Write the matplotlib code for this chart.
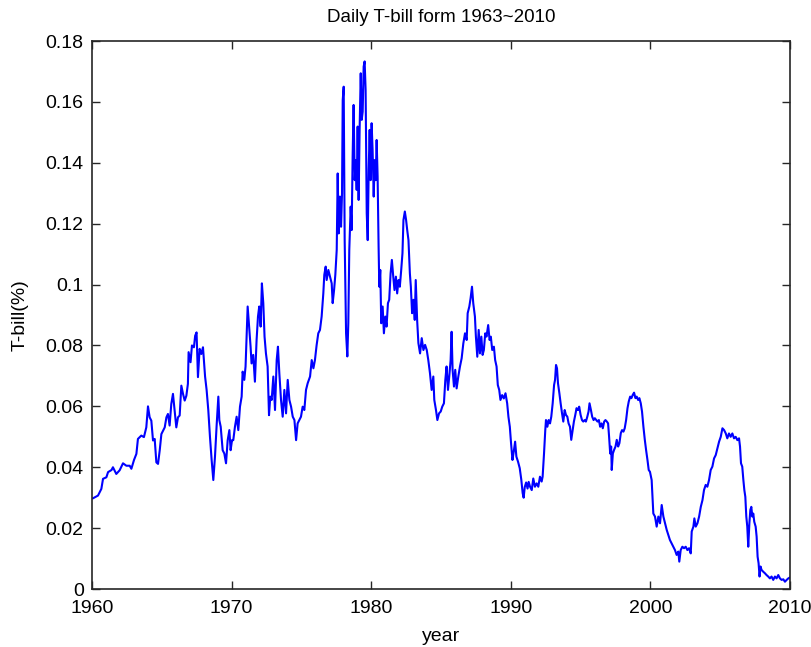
import numpy as np
import matplotlib
matplotlib.use('Agg')
import matplotlib.pyplot as plt
from matplotlib.ticker import FormatStrFormatter

#--- DATA ---------------------------------------------------------------------+

# 1960-1968
yr_60s = [1960.07, 1960.43, 1960.67, 1960.79, 1961.03, 1961.15, 1961.40, 1961.50,
          1961.74, 1961.98, 1962.22, 1962.46, 1962.70, 1962.82, 1963.01, 1963.18,
          1963.29, 1963.53, 1963.72, 1963.89, 1964.01, 1964.13, 1964.25, 1964.37,
          1964.49, 1964.61, 1964.73, 1964.85, 1964.97, 1965.21, 1965.33, 1965.44,
          1965.56, 1965.68, 1965.80, 1965.92, 1966.04, 1966.16, 1966.28, 1966.40,
          1966.52, 1966.64, 1966.76, 1966.87, 1966.92, 1967.06, 1967.16, 1967.30,
          1967.39, 1967.49, 1967.59, 1967.71, 1967.83, 1967.95]
tb_60s = [0.0298, 0.0307, 0.0329, 0.0362, 0.0367, 0.0384, 0.0391, 0.0400,
          0.0378, 0.0390, 0.0413, 0.0405, 0.0405, 0.0395, 0.0424, 0.0444,
          0.0493, 0.0504, 0.0499, 0.0531, 0.0600, 0.0564, 0.0553, 0.0488,
          0.0493, 0.0416, 0.0411, 0.0455, 0.0509, 0.0531, 0.0564, 0.0575,
          0.0537, 0.0608, 0.0641, 0.0586, 0.0531, 0.0564, 0.0570, 0.0668,
          0.0641, 0.0619, 0.0635, 0.0674, 0.0778, 0.0745, 0.0800, 0.0794,
          0.0832, 0.0843, 0.0696, 0.0789, 0.0772, 0.0794]

# 1968-1975
yr_70s = [1968.10, 1968.21, 1968.33, 1968.45, 1968.57, 1968.69, 1968.81, 1968.93,
          1969.05, 1969.12, 1969.22, 1969.36, 1969.48, 1969.60, 1969.72, 1969.84,
          1969.93, 1970.03, 1970.12, 1970.24, 1970.36, 1970.48, 1970.60, 1970.72,
          1970.79, 1970.91, 1971.00, 1971.08, 1971.15, 1971.24, 1971.36, 1971.43,
          1971.55, 1971.67, 1971.79, 1971.89, 1971.98, 1972.08, 1972.17, 1972.27,
          1972.36, 1972.46, 1972.58, 1972.68, 1972.77, 1972.87, 1972.99, 1973.11,
          1973.23, 1973.32, 1973.42, 1973.54, 1973.66, 1973.78, 1973.90, 1974.02,
          1974.14, 1974.26, 1974.38, 1974.50, 1974.62, 1974.73, 1974.85, 1974.97,
          1975.09, 1975.21, 1975.33, 1975.45]
tb_70s = [0.0698, 0.0654, 0.0588, 0.0500, 0.0424, 0.0358, 0.0435, 0.0539,
          0.0632, 0.0555, 0.0533, 0.0456, 0.0445, 0.0413, 0.0489, 0.0522,
          0.0456, 0.0489, 0.0489, 0.0533, 0.0566, 0.0522, 0.0599, 0.0632,
          0.0714, 0.0687, 0.0731, 0.0835, 0.0928, 0.0873, 0.0796, 0.0741,
          0.0769, 0.0681, 0.0818, 0.0895, 0.0928, 0.0862, 0.1004, 0.0939,
          0.0829, 0.0774, 0.0731, 0.0571, 0.0632, 0.0621, 0.0698, 0.0588,
          0.0752, 0.0796, 0.0708, 0.0621, 0.0566, 0.0654, 0.0577, 0.0687,
          0.0621, 0.0599, 0.0566, 0.0555, 0.0489, 0.0544, 0.0555, 0.0566,
          0.0599, 0.0588, 0.0654, 0.0676]

# 1975-1983
yr_80s = [1975.62, 1975.74, 1975.86, 1975.97, 1976.09, 1976.21, 1976.33, 1976.45,
          1976.57, 1976.64, 1976.74, 1976.81, 1976.93, 1977.05, 1977.17, 1977.24,
          1977.34, 1977.43, 1977.53, 1977.60, 1977.67, 1977.76, 1977.84, 1977.91,
          1977.96, 1978.03, 1978.10, 1978.20, 1978.29, 1978.36, 1978.43, 1978.53,
          1978.60, 1978.67, 1978.74, 1978.82, 1978.89, 1978.96, 1979.03, 1979.10,
          1979.17, 1979.25, 1979.32, 1979.39, 1979.46, 1979.53, 1979.60, 1979.68,
          1979.75, 1979.82, 1979.89, 1979.96, 1980.03, 1980.10, 1980.18, 1980.25,
          1980.32, 1980.39, 1980.46, 1980.53, 1980.58, 1980.65, 1980.72, 1980.82,
          1980.91, 1981.01, 1981.10, 1981.20, 1981.29, 1981.39, 1981.48, 1981.58,
          1981.67, 1981.77, 1981.86, 1981.96, 1982.05, 1982.15, 1982.24, 1982.31,
          1982.41, 1982.50, 1982.58, 1982.67, 1982.77, 1982.84, 1982.93, 1983.03,
          1983.12, 1983.19, 1983.29, 1983.38]
tb_80s = [0.0698, 0.0752, 0.0725, 0.0752, 0.0801, 0.0840, 0.0851, 0.0895,
          0.0971, 0.1032, 0.1059, 0.1015, 0.1048, 0.1026, 0.1004, 0.0939,
          0.0982, 0.1032, 0.1114, 0.1365, 0.1168, 0.1289, 0.1190, 0.1300,
          0.1606, 0.1650, 0.1146, 0.0840, 0.0764, 0.0873, 0.1114, 0.1256,
          0.1179, 0.1420, 0.1590, 0.1343, 0.1409, 0.1311, 0.1519, 0.1278,
          0.1508, 0.1694, 0.1541, 0.1568, 0.1716, 0.1733, 0.1639, 0.1234,
          0.1146, 0.1376, 0.1508, 0.1343, 0.1530, 0.1442, 0.1289, 0.1409,
          0.1343, 0.1475, 0.1354, 0.1125, 0.0993, 0.1048, 0.0873, 0.0928,
          0.0840, 0.0895, 0.0862, 0.0939, 0.0950, 0.1037, 0.1081, 0.1026,
          0.0982, 0.1026, 0.0971, 0.1015, 0.0993, 0.1048, 0.1103, 0.1212,
          0.1240, 0.1212, 0.1179, 0.1146, 0.1037, 0.0993, 0.0906, 0.0950,
          0.0884, 0.1015, 0.0884, 0.0808]

# 1983-1991
yr_90s = [1983.50, 1983.62, 1983.74, 1983.86, 1983.98, 1984.09, 1984.21, 1984.33,
          1984.45, 1984.52, 1984.64, 1984.74, 1984.86, 1984.98, 1985.09, 1985.21,
          1985.31, 1985.40, 1985.50, 1985.59, 1985.69, 1985.76, 1985.83, 1985.93,
          1986.02, 1986.12, 1986.24, 1986.36, 1986.48, 1986.60, 1986.72, 1986.84,
          1986.91, 1987.03, 1987.12, 1987.22, 1987.31, 1987.43, 1987.50, 1987.60,
          1987.70, 1987.79, 1987.89, 1987.98, 1988.07, 1988.17, 1988.26, 1988.38,
          1988.48, 1988.57, 1988.67, 1988.79, 1988.88, 1988.98, 1989.07, 1989.17,
          1989.26, 1989.38, 1989.50, 1989.62, 1989.74, 1989.83, 1989.93, 1990.02,
          1990.12, 1990.21, 1990.31, 1990.40, 1990.52, 1990.64, 1990.75, 1990.85,
          1990.92, 1991.00, 1991.10, 1991.20, 1991.28]
tb_90s = [0.0774, 0.0824, 0.0785, 0.0802, 0.0785, 0.0752, 0.0709, 0.0654,
          0.0698, 0.0621, 0.0588, 0.0555, 0.0577, 0.0583, 0.0599, 0.0610,
          0.0687, 0.0731, 0.0654, 0.0698, 0.0752, 0.0845, 0.0720, 0.0665,
          0.0720, 0.0659, 0.0698, 0.0731, 0.0758, 0.0807, 0.0840, 0.0818,
          0.0906, 0.0928, 0.0955, 0.0993, 0.0939, 0.0895, 0.0829, 0.0763,
          0.0851, 0.0774, 0.0829, 0.0769, 0.0785, 0.0840, 0.0829, 0.0867,
          0.0818, 0.0829, 0.0785, 0.0796, 0.0752, 0.0731, 0.0670, 0.0654,
          0.0621, 0.0637, 0.0626, 0.0643, 0.0610, 0.0566, 0.0533, 0.0478,
          0.0424, 0.0451, 0.0484, 0.0435, 0.0418, 0.0397, 0.0360, 0.0315,
          0.0300, 0.0335, 0.0350, 0.0330, 0.0352]

# 1991-2000
yr_00s = [1991.38, 1991.50, 1991.61, 1991.73, 1991.85, 1991.97, 1992.09, 1992.21,
          1992.28, 1992.38, 1992.47, 1992.52, 1992.62, 1992.71, 1992.81, 1992.90,
          1993.00, 1993.10, 1993.17, 1993.24, 1993.31, 1993.38, 1993.48, 1993.57,
          1993.67, 1993.76, 1993.86, 1993.95, 1994.05, 1994.14, 1994.24, 1994.33,
          1994.43, 1994.52, 1994.62, 1994.71, 1994.81, 1994.90, 1995.00, 1995.10,
          1995.19, 1995.29, 1995.38, 1995.48, 1995.57, 1995.64, 1995.74, 1995.83,
          1995.93, 1996.02, 1996.12, 1996.21, 1996.31, 1996.40, 1996.50, 1996.59,
          1996.69, 1996.78, 1996.88, 1996.97, 1997.04, 1997.12, 1997.19, 1997.23,
          1997.31, 1997.40, 1997.50, 1997.59, 1997.69, 1997.78, 1997.88, 1997.97,
          1998.07, 1998.16, 1998.26, 1998.36, 1998.45, 1998.55, 1998.64, 1998.74,
          1998.83, 1998.93, 1999.02, 1999.12, 1999.21, 1999.31, 1999.40, 1999.50,
          1999.60, 1999.69, 1999.79, 1999.88]
tb_00s = [0.0336, 0.0325, 0.0363, 0.0336, 0.0347, 0.0336, 0.0369, 0.0353,
          0.0369, 0.0445, 0.0522, 0.0555, 0.0533, 0.0555, 0.0544, 0.0566,
          0.0610, 0.0670, 0.0687, 0.0736, 0.0725, 0.0676, 0.0643, 0.0610,
          0.0577, 0.0550, 0.0588, 0.0572, 0.0566, 0.0544, 0.0533, 0.0490,
          0.0522, 0.0550, 0.0572, 0.0594, 0.0588, 0.0599, 0.0572, 0.0555,
          0.0550, 0.0555, 0.0550, 0.0566, 0.0583, 0.0610, 0.0588, 0.0566,
          0.0555, 0.0561, 0.0555, 0.0550, 0.0555, 0.0533, 0.0544, 0.0528,
          0.0550, 0.0555, 0.0550, 0.0544, 0.0501, 0.0445, 0.0468, 0.0391,
          0.0445, 0.0457, 0.0468, 0.0490, 0.0468, 0.0479, 0.0512, 0.0522,
          0.0517, 0.0528, 0.0555, 0.0594, 0.0616, 0.0632, 0.0627, 0.0638,
          0.0645, 0.0627, 0.0632, 0.0621, 0.0627, 0.0610, 0.0583, 0.0533,
          0.0490, 0.0457, 0.0424, 0.0391]

# 2000-2010
yr_10s = [1999.97, 2000.09, 2000.21, 2000.33, 2000.45, 2000.57, 2000.69, 2000.81,
          2000.93, 2001.05, 2001.17, 2001.28, 2001.40, 2001.52, 2001.64, 2001.76,
          2001.88, 2002.00, 2002.07, 2002.17, 2002.29, 2002.41, 2002.53, 2002.65,
          2002.77, 2002.89, 2002.96, 2003.08, 2003.15, 2003.25, 2003.37, 2003.49,
          2003.61, 2003.73, 2003.84, 2003.96, 2004.08, 2004.20, 2004.32, 2004.44,
          2004.56, 2004.68, 2004.80, 2004.92, 2005.04, 2005.16, 2005.28, 2005.40,
          2005.51, 2005.63, 2005.75, 2005.87, 2005.99, 2006.11, 2006.23, 2006.35,
          2006.42, 2006.49, 2006.58, 2006.66, 2006.73, 2006.80, 2006.87, 2006.94,
          2007.01, 2007.09, 2007.16, 2007.23, 2007.30, 2007.37, 2007.44, 2007.54,
          2007.61, 2007.68, 2007.75, 2007.82, 2007.89, 2007.96, 2008.08, 2008.20,
          2008.32, 2008.44, 2008.56, 2008.68, 2008.80, 2008.92, 2009.04, 2009.16,
          2009.28, 2009.40, 2009.52, 2009.64, 2009.76, 2009.88, 2010.00]
tb_10s = [0.0385, 0.0358, 0.0248, 0.0238, 0.0205, 0.0238, 0.0216, 0.0276,
          0.0238, 0.0216, 0.0194, 0.0178, 0.0161, 0.0150, 0.0139, 0.0128,
          0.0112, 0.0123, 0.0090, 0.0128, 0.0139, 0.0134, 0.0139, 0.0128,
          0.0134, 0.0117, 0.0189, 0.0205, 0.0232, 0.0205, 0.0216, 0.0238,
          0.0270, 0.0292, 0.0325, 0.0342, 0.0336, 0.0358, 0.0391, 0.0402,
          0.0429, 0.0440, 0.0462, 0.0484, 0.0500, 0.0528, 0.0522, 0.0511,
          0.0495, 0.0511, 0.0500, 0.0511, 0.0495, 0.0500, 0.0489, 0.0495,
          0.0468, 0.0413, 0.0402, 0.0358, 0.0325, 0.0303, 0.0238, 0.0205,
          0.0139, 0.0216, 0.0260, 0.0270, 0.0238, 0.0248, 0.0221, 0.0205,
          0.0172, 0.0106, 0.0085, 0.0041, 0.0074, 0.0063, 0.0057, 0.0052,
          0.0046, 0.0041, 0.0035, 0.0041, 0.0030, 0.0041, 0.0035, 0.0046,
          0.0035, 0.0030, 0.0032, 0.0024, 0.0030, 0.0035, 0.0038]

year = np.array(yr_60s + yr_70s + yr_80s + yr_90s + yr_00s + yr_10s)
tbill = np.array(tb_60s + tb_70s + tb_80s + tb_90s + tb_00s + tb_10s)

xticks = [1960, 1970, 1980, 1990, 2000, 2010]
yticks = [0, 0.02, 0.04, 0.06, 0.08, 0.1, 0.12, 0.14, 0.16, 0.18]

#--- PLOT ---------------------------------------------------------------------+

plt.rcParams['font.family'] = ['Liberation Sans', 'DejaVu Sans']
plt.rcParams['font.size'] = 14

fig = plt.figure(figsize=(8.12, 6.47), dpi=100)
ax = fig.add_axes([0.1133, 0.0896, 0.8596, 0.847])

ax.plot(year, tbill, color='#0000ff', lw=1.5)

ax.set_xlim(1960, 2010)
ax.set_ylim(0, 0.18)
ax.set_xticks(xticks)
ax.set_yticks(yticks)
ax.yaxis.set_major_formatter(FormatStrFormatter('%g'))
ax.tick_params(axis='both', direction='in', length=6, width=1, top=True, right=True,
               colors='#262626', labelcolor='black', labelsize=14)
ax.tick_params(axis='x', pad=8)
ax.tick_params(axis='y', pad=6)
for s in ax.spines.values():
    s.set_color('#262626')
    s.set_linewidth(1.2)

ax.set_title('Daily T-bill form 1963~2010', fontsize=13.5, pad=14)
ax.set_xlabel('year', fontsize=14, labelpad=8)
ax.set_ylabel('T-bill(%)', fontsize=14, labelpad=12)

fig.savefig('out.png', dpi=100, facecolor='white')
